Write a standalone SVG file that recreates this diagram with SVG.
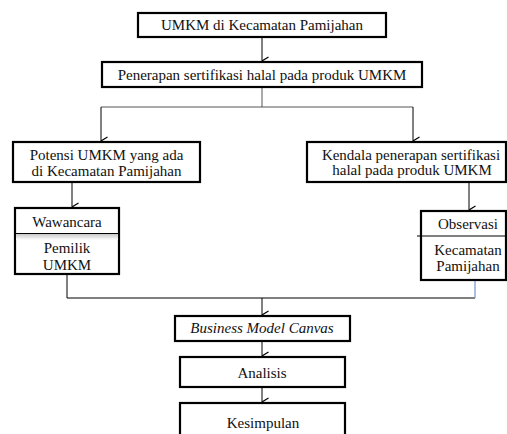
<svg xmlns="http://www.w3.org/2000/svg" width="507" height="434" viewBox="0 0 507 434">
<style>
.box{fill:#fff;stroke:#000;stroke-width:2.2}
.t{font-family:"Liberation Serif","Times New Roman",serif;font-size:15px;fill:#111;text-anchor:middle}
.it{font-style:italic}
.c{fill:none;stroke:#000;stroke-width:1}
.g{fill:none;stroke:#555;stroke-width:1}
.b{fill:none;stroke:#6f95c8;stroke-width:1.2}
</style>
<defs>
<marker id="arr" viewBox="0 0 10 10" refX="5" refY="9.5" markerWidth="10" markerHeight="10" markerUnits="userSpaceOnUse" orient="auto-start-reverse">
<path d="M1,3 L5,9.5 L9,3" fill="none" stroke="#000" stroke-width="1.2"/>
</marker>
<linearGradient id="sh" x1="0" y1="0" x2="0" y2="1">
<stop offset="0" stop-color="#c8c8c8"/>
<stop offset="1" stop-color="#fff"/>
</linearGradient>
</defs>
<rect width="507" height="434" fill="#fff"/>
<g id="connectors">
<path class="c" d="M262,37 V61" marker-end="url(#arr)"/>
<path class="g" d="M262,87 V107 M101,107 H413"/>
<path class="c" d="M101,107 V141" marker-end="url(#arr)"/>
<path class="c" d="M413,107 V141" marker-end="url(#arr)"/>
<path class="c" d="M72,182 V207" marker-end="url(#arr)"/>
<path class="c" d="M469,182 V210" marker-end="url(#arr)"/>
<path class="c" d="M67,274 V298 H475"/>
<path class="b" d="M475,281 V298"/>
<path class="c" d="M262,298 V315" marker-end="url(#arr)"/>
<path class="c" d="M262,341 V356" marker-end="url(#arr)"/>
<path class="c" d="M262,387 V402" marker-end="url(#arr)"/>
</g>
<g id="n1">
<rect class="box" x="138" y="13" width="248" height="24"/>
<text class="t" x="262" y="30">UMKM di Kecamatan Pamijahan</text>
</g>
<g id="n2">
<rect class="box" x="102" y="62" width="320" height="25"/>
<text class="t" x="262" y="80">Penerapan sertifikasi halal pada produk UMKM</text>
</g>
<g id="n3">
<rect class="box" x="13" y="142" width="187" height="40"/>
<text class="t" x="106.5" y="160">Potensi UMKM yang ada</text>
<text class="t" x="106.5" y="176">di Kecamatan Pamijahan</text>
</g>
<g id="n4">
<rect class="box" x="307" y="142" width="199" height="40"/>
<text class="t" x="411" y="159.5">Kendala penerapan sertifikasi</text>
<text class="t" x="412" y="175">halal pada produk UMKM</text>
</g>
<g id="n5">
<rect class="box" x="15" y="208" width="104" height="66"/>
<rect x="16" y="234" width="102" height="6" fill="url(#sh)"/>
<path class="c" d="M15,233.5 H119" stroke-width="1.5"/>
<text class="t" x="67" y="227">Wawancara</text>
<text class="t" x="67" y="253">Pemilik</text>
<text class="t" x="67" y="269.5">UMKM</text>
</g>
<g id="n6">
<rect class="box" x="421" y="211" width="85" height="69"/>
<path class="c" d="M417,236 H506" stroke-width="1.5"/>
<text class="t" x="468" y="229">Observasi</text>
<text class="t" x="468" y="255">Kecamatan</text>
<text class="t" x="468" y="271">Pamijahan</text>
</g>
<g id="n7">
<rect class="box" x="175" y="316" width="175" height="25"/>
<text class="t it" x="262" y="333">Business Model Canvas</text>
</g>
<g id="n8">
<rect class="box" x="180" y="357" width="165" height="30"/>
<text class="t" x="262" y="378">Analisis</text>
</g>
<g id="n9">
<rect class="box" x="180" y="403" width="165" height="40"/>
<text class="t" x="263" y="428">Kesimpulan</text>
</g>
</svg>
